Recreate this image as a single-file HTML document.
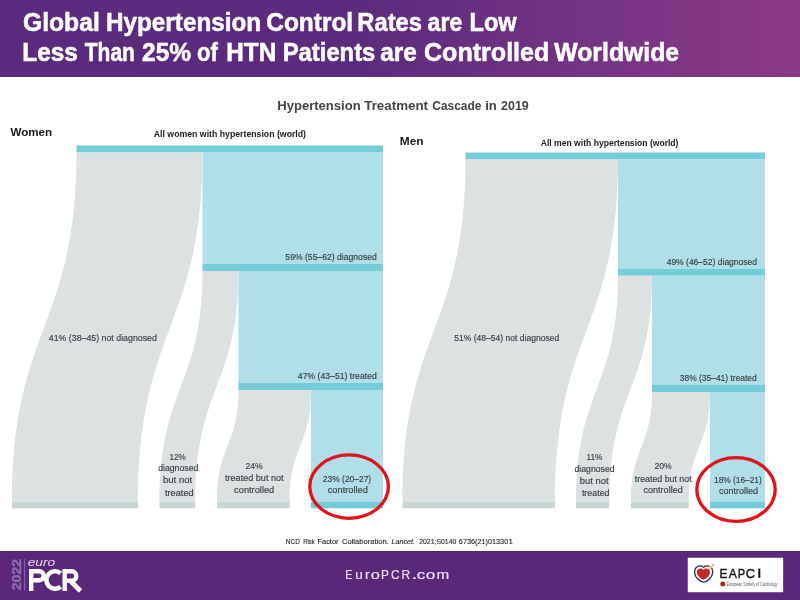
<!DOCTYPE html>
<html><head><meta charset="utf-8"><style>
html,body{margin:0;padding:0;background:#fff;width:800px;height:600px;overflow:hidden}
svg{display:block;will-change:transform}
text{font-family:"Liberation Sans",sans-serif}
</style></head><body>
<svg width="800" height="600" viewBox="0 0 800 600">
<rect x="0" y="0" width="800" height="600" fill="#fff"/>
<defs><linearGradient id="hg" x1="0" x2="1" y1="0" y2="0">
<stop offset="0" stop-color="#5B2A7C"/><stop offset="0.45" stop-color="#5D2B7D"/><stop offset="1" stop-color="#8B3A88"/></linearGradient></defs>
<rect x="0" y="0" width="800" height="77" fill="url(#hg)"/><rect x="76.5" y="145.5" width="306.50" height="7.00" fill="#74CBD9"/><rect x="202.5" y="152.5" width="180.50" height="111.50" fill="#B0DFEA"/><rect x="202.5" y="264" width="180.50" height="7.00" fill="#74CBD9"/><rect x="238.4" y="271" width="144.60" height="112.00" fill="#B0DFEA"/><rect x="238.4" y="383" width="144.60" height="7.00" fill="#74CBD9"/><rect x="311" y="390" width="72.00" height="111.50" fill="#B0DFEA"/><rect x="311" y="501.5" width="72.00" height="6.80" fill="#74CBD9"/><path d="M76.5,152.5 L202.5,152.5 C202.5,327.0 138,327.0 138,501.5 L12,501.5 C12,327.0 76.5,327.0 76.5,152.5 Z" fill="#DCE2E2"/><path d="M202.5,271 L238.4,271 C238.4,386.25 195.3,386.25 195.3,501.5 L159.5,501.5 C159.5,386.25 202.5,386.25 202.5,271 Z" fill="#DCE2E2"/><path d="M238.4,390 L311,390 C311,445.75 289.7,445.75 289.7,501.5 L217,501.5 C217,445.75 238.4,445.75 238.4,390 Z" fill="#DCE2E2"/><rect x="12" y="501.5" width="126.00" height="6.80" fill="#C8D6D5"/><rect x="159.5" y="501.5" width="35.80" height="6.80" fill="#C8D6D5"/><rect x="217" y="501.5" width="72.70" height="6.80" fill="#C8D6D5"/><rect x="465.5" y="152.5" width="299.50" height="7.00" fill="#74CBD9"/><rect x="618" y="159.5" width="147.00" height="109.25" fill="#B0DFEA"/><rect x="618" y="268.75" width="147.00" height="7.00" fill="#74CBD9"/><rect x="652" y="275.75" width="113.00" height="109.25" fill="#B0DFEA"/><rect x="652" y="385" width="113.00" height="7.00" fill="#74CBD9"/><rect x="710" y="392" width="55.00" height="109.50" fill="#B0DFEA"/><rect x="710" y="501.5" width="55.00" height="6.80" fill="#74CBD9"/><path d="M465.5,159.5 L618,159.5 C618,330.5 555,330.5 555,501.5 L402.5,501.5 C402.5,330.5 465.5,330.5 465.5,159.5 Z" fill="#DCE2E2"/><path d="M618,275.75 L652,275.75 C652,388.625 609.3,388.625 609.3,501.5 L576,501.5 C576,388.625 618,388.625 618,275.75 Z" fill="#DCE2E2"/><path d="M652,392 L710,392 C710,446.75 688.8,446.75 688.8,501.5 L631,501.5 C631,446.75 652,446.75 652,392 Z" fill="#DCE2E2"/><rect x="402.5" y="501.5" width="152.50" height="6.80" fill="#C8D6D5"/><rect x="576" y="501.5" width="33.30" height="6.80" fill="#C8D6D5"/><rect x="631" y="501.5" width="57.80" height="6.80" fill="#C8D6D5"/><text x="23.01" y="31.3" font-size="25" font-weight="bold" font-style="normal" fill="#fff" textLength="76.75" lengthAdjust="spacingAndGlyphs" stroke="#fff" stroke-width="0.55">Global</text><text x="106.00" y="31.3" font-size="25" font-weight="bold" font-style="normal" fill="#fff" textLength="155.16" lengthAdjust="spacingAndGlyphs" stroke="#fff" stroke-width="0.55">Hypertension</text><text x="266.22" y="31.3" font-size="25" font-weight="bold" font-style="normal" fill="#fff" textLength="86.96" lengthAdjust="spacingAndGlyphs" stroke="#fff" stroke-width="0.55">Control</text><text x="357.34" y="31.3" font-size="25" font-weight="bold" font-style="normal" fill="#fff" textLength="64.60" lengthAdjust="spacingAndGlyphs" stroke="#fff" stroke-width="0.55">Rates</text><text x="427.61" y="31.3" font-size="25" font-weight="bold" font-style="normal" fill="#fff" textLength="34.62" lengthAdjust="spacingAndGlyphs" stroke="#fff" stroke-width="0.55">are</text><text x="469.55" y="31.3" font-size="25" font-weight="bold" font-style="normal" fill="#fff" textLength="47.14" lengthAdjust="spacingAndGlyphs" stroke="#fff" stroke-width="0.55">Low</text><text x="22.29" y="61.2" font-size="25" font-weight="bold" font-style="normal" fill="#fff" textLength="55.57" lengthAdjust="spacingAndGlyphs" stroke="#fff" stroke-width="0.55">Less</text><text x="84.79" y="61.2" font-size="25" font-weight="bold" font-style="normal" fill="#fff" textLength="50.14" lengthAdjust="spacingAndGlyphs" stroke="#fff" stroke-width="0.55">Than</text><text x="142.06" y="61.2" font-size="25" font-weight="bold" font-style="normal" fill="#fff" textLength="49.06" lengthAdjust="spacingAndGlyphs" stroke="#fff" stroke-width="0.55">25%</text><text x="197.12" y="61.2" font-size="25" font-weight="bold" font-style="normal" fill="#fff" textLength="20.75" lengthAdjust="spacingAndGlyphs" stroke="#fff" stroke-width="0.55">of</text><text x="226.30" y="61.2" font-size="25" font-weight="bold" font-style="normal" fill="#fff" textLength="49.88" lengthAdjust="spacingAndGlyphs" stroke="#fff" stroke-width="0.55">HTN</text><text x="282.73" y="61.2" font-size="25" font-weight="bold" font-style="normal" fill="#fff" textLength="92.62" lengthAdjust="spacingAndGlyphs" stroke="#fff" stroke-width="0.55">Patients</text><text x="380.17" y="61.2" font-size="25" font-weight="bold" font-style="normal" fill="#fff" textLength="36.60" lengthAdjust="spacingAndGlyphs" stroke="#fff" stroke-width="0.55">are</text><text x="424.00" y="61.2" font-size="25" font-weight="bold" font-style="normal" fill="#fff" textLength="125.35" lengthAdjust="spacingAndGlyphs" stroke="#fff" stroke-width="0.55">Controlled</text><text x="554.30" y="61.2" font-size="25" font-weight="bold" font-style="normal" fill="#fff" textLength="124.82" lengthAdjust="spacingAndGlyphs" stroke="#fff" stroke-width="0.55">Worldwide</text><text x="277.22" y="109.9" font-size="12.5" font-weight="bold" font-style="normal" fill="#454545" textLength="83.44" lengthAdjust="spacingAndGlyphs" >Hypertension</text><text x="364.25" y="109.9" font-size="12.5" font-weight="bold" font-style="normal" fill="#454545" textLength="63.76" lengthAdjust="spacingAndGlyphs" >Treatment</text><text x="432.27" y="109.9" font-size="12.5" font-weight="bold" font-style="normal" fill="#454545" textLength="49.13" lengthAdjust="spacingAndGlyphs" >Cascade</text><text x="485.21" y="109.9" font-size="12.5" font-weight="bold" font-style="normal" fill="#454545" textLength="11.68" lengthAdjust="spacingAndGlyphs" >in</text><text x="501.00" y="109.9" font-size="12.5" font-weight="bold" font-style="normal" fill="#454545" textLength="27.81" lengthAdjust="spacingAndGlyphs" >2019</text><text x="10.40" y="136" font-size="11.5" font-weight="bold" font-style="normal" fill="#1A1A1A" textLength="41.78" lengthAdjust="spacingAndGlyphs" >Women</text><text x="153.77" y="137" font-size="9.5" font-weight="bold" font-style="normal" fill="#1A1A1A" textLength="152.27" lengthAdjust="spacingAndGlyphs" >All women with hypertension (world)</text><text x="399.72" y="145" font-size="11.5" font-weight="bold" font-style="normal" fill="#1A1A1A" textLength="23.86" lengthAdjust="spacingAndGlyphs" >Men</text><text x="540.77" y="146" font-size="9.5" font-weight="bold" font-style="normal" fill="#1A1A1A" textLength="137.71" lengthAdjust="spacingAndGlyphs" >All men with hypertension (world)</text><text x="48.76" y="341.3" font-size="9" font-weight="normal" font-style="normal" fill="#363E43" textLength="108.12" lengthAdjust="spacingAndGlyphs" stroke="#363E43" stroke-width="0.15">41% (38–45) not diagnosed</text><text x="285.36" y="259.5" font-size="9" font-weight="normal" font-style="normal" fill="#363E43" textLength="91.44" lengthAdjust="spacingAndGlyphs" stroke="#363E43" stroke-width="0.15">59% (55–62) diagnosed</text><text x="297.86" y="378.5" font-size="9" font-weight="normal" font-style="normal" fill="#363E43" textLength="78.92" lengthAdjust="spacingAndGlyphs" stroke="#363E43" stroke-width="0.15">47% (43–51) treated</text><text x="169.57" y="459.6" font-size="9" font-weight="normal" font-style="normal" fill="#363E43" textLength="16.27" lengthAdjust="spacingAndGlyphs" stroke="#363E43" stroke-width="0.15">12%</text><text x="158.16" y="471.25" font-size="9" font-weight="normal" font-style="normal" fill="#363E43" textLength="40.16" lengthAdjust="spacingAndGlyphs" stroke="#363E43" stroke-width="0.15">diagnosed</text><text x="162.97" y="483.4" font-size="9" font-weight="normal" font-style="normal" fill="#363E43" textLength="29.26" lengthAdjust="spacingAndGlyphs" stroke="#363E43" stroke-width="0.15">but not</text><text x="165.00" y="495.6" font-size="9" font-weight="normal" font-style="normal" fill="#363E43" textLength="28.63" lengthAdjust="spacingAndGlyphs" stroke="#363E43" stroke-width="0.15">treated</text><text x="245.52" y="469" font-size="9" font-weight="normal" font-style="normal" fill="#363E43" textLength="17.23" lengthAdjust="spacingAndGlyphs" stroke="#363E43" stroke-width="0.15">24%</text><text x="225.00" y="481" font-size="9" font-weight="normal" font-style="normal" fill="#363E43" textLength="58.54" lengthAdjust="spacingAndGlyphs" stroke="#363E43" stroke-width="0.15">treated but not</text><text x="234.14" y="492.8" font-size="9" font-weight="normal" font-style="normal" fill="#363E43" textLength="40.15" lengthAdjust="spacingAndGlyphs" stroke="#363E43" stroke-width="0.15">controlled</text><text x="322.83" y="481.7" font-size="9" font-weight="normal" font-style="normal" fill="#363E43" textLength="48.37" lengthAdjust="spacingAndGlyphs" stroke="#363E43" stroke-width="0.15">23% (20–27)</text><text x="327.74" y="493" font-size="9" font-weight="normal" font-style="normal" fill="#363E43" textLength="40.09" lengthAdjust="spacingAndGlyphs" stroke="#363E43" stroke-width="0.15">controlled</text><text x="454.26" y="341.2" font-size="9" font-weight="normal" font-style="normal" fill="#363E43" textLength="104.99" lengthAdjust="spacingAndGlyphs" stroke="#363E43" stroke-width="0.15">51% (48–54) not diagnosed</text><text x="666.66" y="264.5" font-size="9" font-weight="normal" font-style="normal" fill="#363E43" textLength="90.38" lengthAdjust="spacingAndGlyphs" stroke="#363E43" stroke-width="0.15">49% (46–52) diagnosed</text><text x="679.77" y="380.5" font-size="9" font-weight="normal" font-style="normal" fill="#363E43" textLength="77.01" lengthAdjust="spacingAndGlyphs" stroke="#363E43" stroke-width="0.15">38% (35–41) treated</text><text x="586.41" y="460.4" font-size="9" font-weight="normal" font-style="normal" fill="#363E43" textLength="16.01" lengthAdjust="spacingAndGlyphs" stroke="#363E43" stroke-width="0.15">11%</text><text x="574.51" y="472.2" font-size="9" font-weight="normal" font-style="normal" fill="#363E43" textLength="40.11" lengthAdjust="spacingAndGlyphs" stroke="#363E43" stroke-width="0.15">diagnosed</text><text x="579.88" y="484" font-size="9" font-weight="normal" font-style="normal" fill="#363E43" textLength="28.64" lengthAdjust="spacingAndGlyphs" stroke="#363E43" stroke-width="0.15">but not</text><text x="581.90" y="495.6" font-size="9" font-weight="normal" font-style="normal" fill="#363E43" textLength="27.61" lengthAdjust="spacingAndGlyphs" stroke="#363E43" stroke-width="0.15">treated</text><text x="654.52" y="469.4" font-size="9" font-weight="normal" font-style="normal" fill="#363E43" textLength="17.23" lengthAdjust="spacingAndGlyphs" stroke="#363E43" stroke-width="0.15">20%</text><text x="634.75" y="481.6" font-size="9" font-weight="normal" font-style="normal" fill="#363E43" textLength="56.89" lengthAdjust="spacingAndGlyphs" stroke="#363E43" stroke-width="0.15">treated but not</text><text x="643.50" y="492.8" font-size="9" font-weight="normal" font-style="normal" fill="#363E43" textLength="39.23" lengthAdjust="spacingAndGlyphs" stroke="#363E43" stroke-width="0.15">controlled</text><text x="714.11" y="482.5" font-size="9" font-weight="normal" font-style="normal" fill="#363E43" textLength="47.59" lengthAdjust="spacingAndGlyphs" stroke="#363E43" stroke-width="0.15">18% (16–21)</text><text x="718.95" y="494" font-size="9" font-weight="normal" font-style="normal" fill="#363E43" textLength="39.07" lengthAdjust="spacingAndGlyphs" stroke="#363E43" stroke-width="0.15">controlled</text><text x="285.78" y="543.85" font-size="7" font-weight="normal" font-style="normal" fill="#262626" textLength="14.12" lengthAdjust="spacingAndGlyphs" stroke="#262626" stroke-width="0.12">NCD</text><text x="303.22" y="543.85" font-size="7" font-weight="normal" font-style="normal" fill="#262626" textLength="11.62" lengthAdjust="spacingAndGlyphs" stroke="#262626" stroke-width="0.12">Risk</text><text x="317.57" y="543.85" font-size="7" font-weight="normal" font-style="normal" fill="#262626" textLength="20.92" lengthAdjust="spacingAndGlyphs" stroke="#262626" stroke-width="0.12">Factor</text><text x="341.98" y="543.85" font-size="7" font-weight="normal" font-style="normal" fill="#262626" textLength="46.77" lengthAdjust="spacingAndGlyphs" stroke="#262626" stroke-width="0.12">Collaboration.</text><text x="391.49" y="543.85" font-size="7" font-weight="normal" font-style="italic" fill="#262626" textLength="23.60" lengthAdjust="spacingAndGlyphs" stroke="#262626" stroke-width="0.12">Lancet.</text><text x="419.15" y="543.85" font-size="7" font-weight="normal" font-style="normal" fill="#262626" textLength="37.20" lengthAdjust="spacingAndGlyphs" stroke="#262626" stroke-width="0.12">2021;S0140</text><text x="458.84" y="543.85" font-size="7" font-weight="normal" font-style="normal" fill="#262626" textLength="49.41" lengthAdjust="spacingAndGlyphs" stroke="#262626" stroke-width="0.12">6736(21)01330</text><text x="508.53" y="543.85" font-size="7" font-weight="normal" font-style="normal" fill="#262626" textLength="4.41" lengthAdjust="spacingAndGlyphs" stroke="#262626" stroke-width="0.12">1</text><ellipse cx="349.1" cy="486.6" rx="39.3" ry="31.7" fill="none" stroke="#E0121B" stroke-width="3.3"/><ellipse cx="736" cy="489.5" rx="39.2" ry="31.9" fill="none" stroke="#E0121B" stroke-width="3.3"/><rect x="0" y="551" width="800" height="49" fill="#5B2779"/><rect x="0" y="551" width="800" height="1" fill="#4F2469"/><text x="345.17" y="578.9" font-size="13" font-weight="normal" font-style="normal" fill="#F0DCF4" textLength="7.18" lengthAdjust="spacingAndGlyphs" stroke="#F0DCF4" stroke-width="0.2">E</text><text x="355.32" y="578.9" font-size="13" font-weight="normal" font-style="normal" fill="#F0DCF4" textLength="7.54" lengthAdjust="spacingAndGlyphs" stroke="#F0DCF4" stroke-width="0.2">u</text><text x="365.11" y="578.9" font-size="13" font-weight="normal" font-style="normal" fill="#F0DCF4" textLength="4.58" lengthAdjust="spacingAndGlyphs" stroke="#F0DCF4" stroke-width="0.2">r</text><text x="370.87" y="578.9" font-size="13" font-weight="normal" font-style="normal" fill="#F0DCF4" textLength="9.14" lengthAdjust="spacingAndGlyphs" stroke="#F0DCF4" stroke-width="0.2">o</text><text x="381.09" y="578.9" font-size="13" font-weight="normal" font-style="normal" fill="#F0DCF4" textLength="7.93" lengthAdjust="spacingAndGlyphs" stroke="#F0DCF4" stroke-width="0.2">P</text><text x="391.12" y="578.9" font-size="13" font-weight="normal" font-style="normal" fill="#F0DCF4" textLength="8.57" lengthAdjust="spacingAndGlyphs" stroke="#F0DCF4" stroke-width="0.2">C</text><text x="401.58" y="578.9" font-size="13" font-weight="normal" font-style="normal" fill="#F0DCF4" textLength="8.60" lengthAdjust="spacingAndGlyphs" stroke="#F0DCF4" stroke-width="0.2">R</text><text x="411.20" y="578.9" font-size="13" font-weight="normal" font-style="normal" fill="#F0DCF4" textLength="6.36" lengthAdjust="spacingAndGlyphs" stroke="#F0DCF4" stroke-width="0.2">.</text><text x="416.85" y="578.9" font-size="13" font-weight="normal" font-style="normal" fill="#F0DCF4" textLength="8.48" lengthAdjust="spacingAndGlyphs" stroke="#F0DCF4" stroke-width="0.2">c</text><text x="425.84" y="578.9" font-size="13" font-weight="normal" font-style="normal" fill="#F0DCF4" textLength="9.54" lengthAdjust="spacingAndGlyphs" stroke="#F0DCF4" stroke-width="0.2">o</text><text x="436.52" y="578.9" font-size="13" font-weight="normal" font-style="normal" fill="#F0DCF4" textLength="12.76" lengthAdjust="spacingAndGlyphs" stroke="#F0DCF4" stroke-width="0.2">m</text><text x="0" y="0" transform="translate(20.9,590.2) rotate(-90)" font-size="12.5" font-weight="bold" fill="#8F70AE" stroke="#8F70AE" stroke-width="0.3" textLength="31.2" lengthAdjust="spacingAndGlyphs">2022</text><rect x="24.2" y="559" width="0.9" height="31.5" fill="#8D6BAE"/><text x="27.70" y="565.6" font-size="11.5" font-weight="normal" font-style="italic" fill="#EBD3F2" textLength="27.62" lengthAdjust="spacingAndGlyphs" >euro</text><g fill="none" stroke="#fff" stroke-width="4.4"><path d="M31.2,569 V591"/><path d="M31.2,571.2 H39.2 A4.55,4.55 0 0 1 39.2,580.3 H31.2"/><path d="M60.6,573.3 A8.7,8.7 0 1 0 60.6,586.7" stroke-width="4.6"/><path d="M64.7,569 V591"/><path d="M64.7,571.2 H71.5 A4.8,4.8 0 0 1 71.5,580.8 H64.7"/><path d="M70,580.5 L80.5,591" stroke-width="4.8"/></g><rect x="687.75" y="557.75" width="95.4" height="34.5" fill="#fff"/><g transform="translate(694.6,565.6) scale(18.1,16.5)"><path d="M0.5,0.1 C0.35,-0.03 0.0,-0.02 0.0,0.4 C0.0,0.72 0.3,0.97 0.5,1 C0.7,0.97 1.0,0.72 1.0,0.4 C1.0,-0.02 0.65,-0.03 0.5,0.1 Z" fill="none" stroke="#3A2050" stroke-width="1.3" vector-effect="non-scaling-stroke"/></g><g transform="translate(696.9,568.1) scale(13.1,11.3)"><path d="M0.5,0.15 C0.38,-0.03 0.0,-0.04 0.0,0.36 C0.0,0.7 0.3,0.95 0.5,1 C0.7,0.95 1.0,0.7 1.0,0.36 C1.0,-0.04 0.62,-0.03 0.5,0.15 Z" fill="#BE2D27"/></g><path d="M709.2,568.6 L713.9,564" stroke="#fff" stroke-width="2.6"/><path d="M709.4,568.4 L713.75,564.2" stroke="#DDB050" stroke-width="1.4" stroke-linecap="round"/><text x="719.42" y="577.9" font-size="13.5" font-weight="normal" font-style="normal" fill="#111" textLength="7.93" lengthAdjust="spacingAndGlyphs" stroke="#111" stroke-width="0.4">E</text><text x="728.70" y="577.9" font-size="13.5" font-weight="normal" font-style="normal" fill="#111" textLength="8.11" lengthAdjust="spacingAndGlyphs" stroke="#111" stroke-width="0.4">A</text><text x="737.77" y="577.9" font-size="13.5" font-weight="normal" font-style="normal" fill="#111" textLength="7.45" lengthAdjust="spacingAndGlyphs" stroke="#111" stroke-width="0.4">P</text><text x="745.69" y="577.9" font-size="13.5" font-weight="normal" font-style="normal" fill="#111" textLength="9.29" lengthAdjust="spacingAndGlyphs" stroke="#111" stroke-width="0.4">C</text><rect x="758.3" y="568.6" width="2" height="9.3" fill="#111"/><circle cx="722.8" cy="584.1" r="2.5" fill="#A8262E"/><text x="726.55" y="586.4" font-size="5.2" font-weight="normal" font-style="normal" fill="#555" textLength="51.04" lengthAdjust="spacingAndGlyphs" >European Society of Cardiology</text>
</svg>
</body></html>
